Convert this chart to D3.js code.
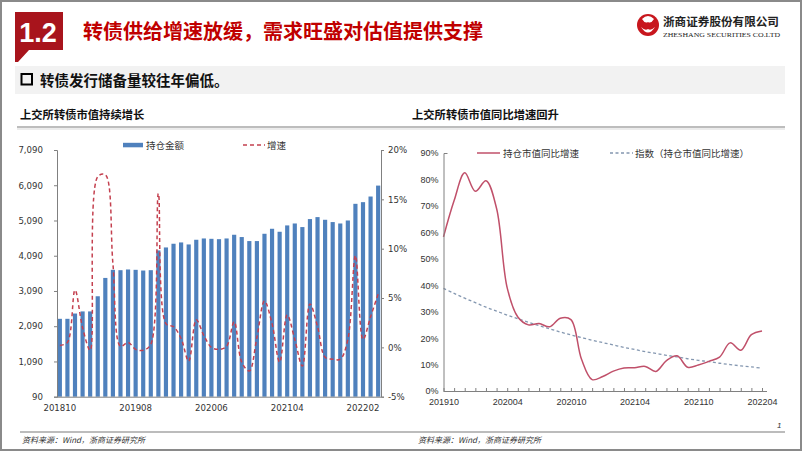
<!DOCTYPE html>
<html><head><meta charset="utf-8">
<script src="https://cdn.jsdelivr.net/npm/d3@7/dist/d3.min.js"></script>
<style>
html,body{margin:0;padding:0;background:#fff;}
svg{display:block;}
</style></head>
<body><svg id="c" width="802" height="451"></svg>
<script>
// ---------- DATA ----------
const barMonths = ["201810","201811","201812","201901","201902","201903","201904","201905","201906","201907","201908","201909","201910","201911","201912",
  "202001","202002","202003","202004","202005","202006","202007","202008","202009","202010","202011","202012",
  "202101","202102","202103","202104","202105","202106","202107","202108","202109","202110","202111","202112",
  "202201","202202","202203","202204"];
const holdAmount = [2300,2300,2450,2510,2510,2940,3460,3690,3680,3700,3690,3670,3680,
  4240,4325,4430,4467,4410,4543,4580,4570,4560,4580,4685,4620,4506,4506,4713,4855,4770,
  4950,5005,4903,5130,5186,5110,5045,5005,5090,5563,5610,5770,6080];
const growthPct = [0.2,0.5,5.8,2.0,-0.3,17.3,17.5,8.5,0.1,0.5,-0.2,-0.3,0.3,
  15.6,2.4,2.1,0.9,-1.4,2.8,1.2,0.0,-0.2,0.1,2.6,-1.5,-2.4,1.0,4.7,2.4,-1.5,
  3.3,0.8,-1.9,4.4,2.1,-1.0,-1.2,-1.2,0.8,9.3,0.8,3.1,5.4];
const leftTicks = [90,1090,2090,3090,4090,5090,6090,7090];
const leftTickLabels = ["90","1,090","2,090","3,090","4,090","5,090","6,090","7,090"];
const rightPctTicks = [-5,0,5,10,15,20];
const leftXLabels = ["201810","201908","202006","202104","202202"];

const lineMonths = ["201910","201911","201912","202001","202002","202003","202004","202005","202006","202007","202008","202009","202010","202011","202012",
  "202101","202102","202103","202104","202105","202106","202107","202108","202109","202110","202111","202112",
  "202201","202202","202203","202204"];
const yoyGrowth = [58.3,72,82.5,75.5,79.5,69,39,28,25,25.5,24.3,27.5,27,12,4.3,5.5,7.5,8.7,8.8,9.3,7.4,11.5,13.3,9.0,9.8,11.2,12.8,18.2,15.4,21.3,22.7];
const trendIndex = [38.8,36.9,35.1,33.4,31.7,30.2,28.7,27.3,26.0,24.7,23.5,22.3,21.2,20.2,19.2,18.3,17.4,16.5,15.7,14.9,14.2,13.5,12.9,12.2,11.6,11.1,10.5,10.0,9.5,9.1,8.6];
const yoyTicks = [0,10,20,30,40,50,60,70,80,90];
const rightXLabels = ["201910","202004","202010","202104","202110","202204"];

// ---------- STYLE ----------
const CJK = "'Noto Sans CJK SC','Noto Sans',sans-serif";
const svg = d3.select("#c");

// frame
svg.append("rect").attr("x",1).attr("y",1).attr("width",800).attr("height",449)
  .attr("fill","none").attr("stroke","#8a8a8a").attr("stroke-width",2);

// header tab
svg.append("path").attr("d","M15,12H63V50H29L18,62H15Z").attr("fill","#a8141c");
svg.append("text").attr("x",38).attr("y",42).attr("text-anchor","middle")
  .attr("font-family","'Liberation Sans',Arial,sans-serif").attr("font-weight","bold")
  .attr("font-size",27).attr("fill","#fff").text("1.2");
svg.append("text").attr("x",83).attr("y",39).attr("font-family",CJK).attr("font-weight","bold")
  .attr("font-size",20).attr("fill","#c00000").text("转债供给增速放缓，需求旺盛对估值提供支撑");

// logo
const lg = svg.append("g");
lg.append("circle").attr("cx",648).attr("cy",25).attr("r",11).attr("fill","#c8161d");
lg.append("path").attr("d","M642,19 Q648,13 654,19 Q651,24 648,22 Q645,24 642,19Z").attr("fill","#fff");
lg.append("path").attr("d","M641,27 Q648,38 655,27 Q651,31 648,29 Q645,31 641,27Z").attr("fill","#fff");
lg.append("text").attr("x",663).attr("y",26).attr("font-family",CJK).attr("font-weight","bold")
  .attr("font-size",11.6).attr("fill","#222").text("浙商证券股份有限公司");
lg.append("text").attr("x",663).attr("y",37).attr("font-family","'Liberation Serif',serif")
  .attr("font-size",6.5).attr("fill","#222").attr("textLength",117).attr("lengthAdjust","spacingAndGlyphs")
  .text("ZHESHANG SECURITIES CO.LTD");

// banner
svg.append("rect").attr("x",15).attr("y",66).attr("width",770).attr("height",28).attr("fill","#f2f2f2");
svg.append("rect").attr("x",21.5).attr("y",74).attr("width",10.5).attr("height",10.5)
  .attr("fill","none").attr("stroke","#000").attr("stroke-width",2);
svg.append("text").attr("x",40).attr("y",85.5).attr("font-family",CJK).attr("font-weight","bold")
  .attr("font-size",14.5).attr("fill","#111").text("转债发行储备量较往年偏低。");

// chart titles
svg.append("text").attr("x",20).attr("y",119).attr("font-family",CJK).attr("font-weight","bold")
  .attr("font-size",11.3).attr("fill","#111").text("上交所转债市值持续增长");
svg.append("text").attr("x",412).attr("y",119).attr("font-family",CJK).attr("font-weight","bold")
  .attr("font-size",11.3).attr("fill","#111").text("上交所转债市值同比增速回升");
svg.append("line").attr("x1",17).attr("x2",785).attr("y1",127).attr("y2",127)
  .attr("stroke","#bdbdbd").attr("stroke-width",2);
svg.append("line").attr("x1",17).attr("x2",785).attr("y1",129).attr("y2",129)
  .attr("stroke","#e6e6e6").attr("stroke-width",1.5);

// footer
svg.append("line").attr("x1",20).attr("x2",785).attr("y1",432).attr("y2",432)
  .attr("stroke","#a6a6a6").attr("stroke-width",1.5);
[22,418].forEach(x=>{
  svg.append("text").attr("x",x).attr("y",443).attr("font-family",CJK).attr("font-style","italic")
    .attr("font-size",8).attr("fill","#333").text("资料来源：Wind，浙商证券研究所");
});
svg.append("text").attr("x",777).attr("y",428).attr("font-family","'Liberation Sans',sans-serif")
  .attr("font-style","italic").attr("font-size",8).attr("fill","#333").text("1");

// ---------- LEFT CHART ----------
const LFont = "'DejaVu Sans',Verdana,sans-serif";
const axisColor = "#808080";
const xL = d3.scaleBand().domain(barMonths).range([57,381]).paddingInner(0.45).paddingOuter(0.1);
const yL = d3.scaleLinear().domain([90,7090]).range([396.7,150]);
const yR = d3.scaleLinear().domain([-5,20]).range([396.7,150]);

const gL = svg.append("g");
gL.selectAll("rect.bar").data(holdAmount).join("rect").attr("class","bar")
  .attr("x",(d,i)=>xL(barMonths[i])).attr("width",xL.bandwidth())
  .attr("y",d=>yL(d)).attr("height",d=>yL(90)-yL(d)).attr("fill","#4f81bd");

const lineG = d3.line().x((d,i)=>xL(barMonths[i])+xL.bandwidth()/2).y(d=>yR(d))
  .curve(d3.curveCatmullRom.alpha(0.5));
gL.append("path").datum(growthPct).attr("d",lineG).attr("fill","none")
  .attr("stroke","#c4404f").attr("stroke-width",1.5).attr("stroke-dasharray","4,3");

function styleAxis(g, font, size){
  g.selectAll("path,line").attr("stroke",axisColor);
  g.selectAll("text").attr("font-family",font).attr("font-size",size).attr("fill","#333");
}
const axL = gL.append("g").attr("transform","translate(57,0)")
  .call(d3.axisLeft(yL).tickValues(leftTicks).tickFormat((d,i)=>leftTickLabels[i])
    .tickSizeInner(3).tickSizeOuter(3).tickPadding(11));
styleAxis(axL, LFont, 8.6);
const axR = gL.append("g").attr("transform","translate(381,0)")
  .call(d3.axisRight(yR).tickValues(rightPctTicks).tickFormat(d=>d+"%")
    .tickSizeInner(3).tickSizeOuter(3).tickPadding(4));
styleAxis(axR, LFont, 8.6);
const axB = gL.append("g").attr("transform","translate(0,396.7)")
  .call(d3.axisBottom(xL).tickValues(leftXLabels).tickSize(0).tickPadding(8));
styleAxis(axB, LFont, 8.6);
axB.select(".domain").attr("d","M57,0.5H381");

// left legend
const legL = d3.scaleOrdinal().domain(["持仓金额","增速"]).range([123,243]);
gL.append("rect").attr("x",legL("持仓金额")).attr("y",142.8).attr("width",20).attr("height",4.5).attr("fill","#4f81bd");
gL.append("text").attr("x",legL("持仓金额")+23).attr("y",148.5).attr("font-family",CJK)
  .attr("font-size",9.5).attr("fill","#333").text("持仓金额");
gL.append("line").attr("x1",legL("增速")).attr("x2",legL("增速")+22).attr("y1",145).attr("y2",145)
  .attr("stroke","#c4404f").attr("stroke-width",1.5).attr("stroke-dasharray","4,3");
gL.append("text").attr("x",legL("增速")+24).attr("y",148.5).attr("font-family",CJK)
  .attr("font-size",9.5).attr("fill","#333").text("增速");

// ---------- RIGHT CHART ----------
const RFont = "'Liberation Sans',Arial,sans-serif";
const xP = d3.scalePoint().domain(lineMonths).range([443.5,762]);
const yP = d3.scaleLinear().domain([0,90]).range([391,153]);
const gR = svg.append("g");

const lineY = d3.line().x((d,i)=>xP(lineMonths[i])).y(d=>yP(d)).curve(d3.curveCatmullRom.alpha(0.5));
gR.append("path").datum(trendIndex).attr("d",lineY).attr("fill","none")
  .attr("stroke","#8497b0").attr("stroke-width",1.3).attr("stroke-dasharray","3,2.5");
gR.append("path").datum(yoyGrowth).attr("d",lineY).attr("fill","none")
  .attr("stroke","#c0506a").attr("stroke-width",1.5);

const axPY = gR.append("g").attr("transform","translate(443.5,0)")
  .call(d3.axisLeft(yP).tickValues(yoyTicks).tickFormat(d=>d+"%").tickSizeInner(0).tickSizeOuter(-4).tickPadding(5));
styleAxis(axPY, RFont, 9);
const axPX = gR.append("g").attr("transform","translate(0,391)")
  .call(d3.axisBottom(xP).tickValues(rightXLabels).tickSize(0).tickPadding(8));
styleAxis(axPX, RFont, 9);
axPX.select(".domain").attr("d","M443.5,0.5H767");
const axPM = gR.append("g").attr("transform","translate(0,391)")
  .call(d3.axisBottom(xP).tickSizeInner(-3).tickSizeOuter(0).tickFormat(""));
axPM.select(".domain").remove();
axPM.selectAll("line").attr("stroke",axisColor);

// right legend
const legR = d3.scaleOrdinal().domain(["持仓市值同比增速","指数（持仓市值同比增速）"]).range([477,610]);
gR.append("line").attr("x1",legR("持仓市值同比增速")).attr("x2",legR("持仓市值同比增速")+23)
  .attr("y1",153).attr("y2",153).attr("stroke","#c0506a").attr("stroke-width",1.5);
gR.append("text").attr("x",legR("持仓市值同比增速")+26).attr("y",156.5).attr("font-family",CJK)
  .attr("font-size",9.5).attr("fill","#333").text("持仓市值同比增速");
gR.append("line").attr("x1",legR("指数（持仓市值同比增速）")).attr("x2",legR("指数（持仓市值同比增速）")+23)
  .attr("y1",153).attr("y2",153).attr("stroke","#8497b0").attr("stroke-width",1.3).attr("stroke-dasharray","3,2.5");
gR.append("text").attr("x",legR("指数（持仓市值同比增速）")+25).attr("y",156.5).attr("font-family",CJK)
  .attr("font-size",9.5).attr("fill","#333").text("指数（持仓市值同比增速）");
</script>
</body></html>
